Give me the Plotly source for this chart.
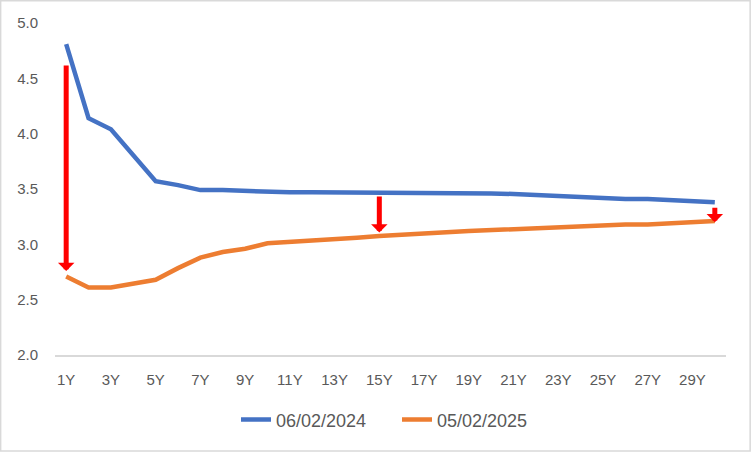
import plotly.graph_objects as go

# tenor buckets on the x axis
tenors = ["1Y", "2Y", "3Y", "4Y", "5Y", "6Y", "7Y", "8Y", "9Y", "10Y",
          "11Y", "12Y", "13Y", "14Y", "15Y", "16Y", "17Y", "18Y", "19Y", "20Y",
          "21Y", "22Y", "23Y", "24Y", "25Y", "26Y", "27Y", "28Y", "29Y", "30Y"]
tick_labels = ["1Y", "3Y", "5Y", "7Y", "9Y", "11Y", "13Y", "15Y",
               "17Y", "19Y", "21Y", "23Y", "25Y", "27Y", "29Y"]

# curve on 06/02/2024
curve_2024 = [4.81, 4.14, 4.04, 3.81, 3.57, 3.535, 3.49, 3.49, 3.48, 3.48,
              3.47, 3.47, 3.47, 3.47, 3.47, 3.47, 3.47, 3.47, 3.47, 3.46,
              3.455, 3.445, 3.44, 3.43, 3.42, 3.41, 3.41, 3.40, 3.39, 3.38]
# curve on 05/02/2025
curve_2025 = [2.71, 2.61, 2.61, 2.645, 2.68, 2.785, 2.88, 2.93, 2.96, 3.01,
              3.02, 3.035, 3.045, 3.06, 3.075, 3.09, 3.10, 3.11, 3.12, 3.13,
              3.14, 3.15, 3.155, 3.165, 3.17, 3.18, 3.18, 3.19, 3.20, 3.21]

# red arrows showing the move between the two dates
arrow_tenors = ["1Y", "15Y", "30Y"]
arrow_from = [4.63, 3.445, 3.345]
arrow_to = [2.76, 3.107, 3.20]

grey = "#595959"

fig = go.Figure()
fig.add_trace(go.Scatter(x=tenors, y=curve_2024, mode="lines", name="06/02/2024",
                         line=dict(color="#4472C4", width=4.5)))
fig.add_trace(go.Scatter(x=tenors, y=curve_2025, mode="lines", name="05/02/2025",
                         line=dict(color="#ED7D31", width=4.5)))

for t, y0, y1 in zip(arrow_tenors, arrow_from, arrow_to):
    i = tenors.index(t)
    fig.add_annotation(x=i, y=y1, ax=i, ay=y0, xref="x", yref="y", axref="x", ayref="y",
                       text="", showarrow=True, arrowhead=1, arrowsize=0.55,
                       arrowwidth=5, arrowcolor="#FF0000", standoff=0)

# thin grey frame round the whole chart
fig.add_shape(type="rect", xref="paper", yref="paper",
              x0=-0.081, x1=1.036, y0=-0.289, y1=1.067,
              line=dict(color="#D9D9D9", width=1.5), layer="below")

fig.update_layout(
    width=751, height=452,
    margin=dict(l=55, r=25, t=23, b=97),
    paper_bgcolor="white", plot_bgcolor="white",
    font=dict(family="Liberation Sans, Arial, sans-serif", size=15, color=grey),
    showlegend=True,
    legend=dict(orientation="h", xref="container", yref="container",
                x=236 / 751, xanchor="left", y=0.071, yanchor="middle",
                font=dict(size=18, color=grey), entrywidth=116,
                traceorder="normal"),
    hovermode=False,
)
fig.update_xaxes(type="category", categoryorder="array", categoryarray=tenors,
                 tickvals=tick_labels, ticktext=tick_labels,
                 range=[-0.5, len(tenors) - 0.5], automargin=False,
                 showgrid=False, zeroline=False,
                 showline=True, linecolor="#D9D9D9", linewidth=1.5,
                 ticks="", ticklabelstandoff=10)
fig.update_yaxes(range=[2.0, 5.0], tickvals=[2.0, 2.5, 3.0, 3.5, 4.0, 4.5, 5.0],
                 tickformat=".1f", showgrid=False, zeroline=False, showline=False,
                 automargin=False, ticks="", ticklabelstandoff=16)

# drop the browser's default page margin so the chart sits at the top-left corner
fig.write_html("out.html", config={"displayModeBar": False},
               post_script="document.body.style.margin='0';")
